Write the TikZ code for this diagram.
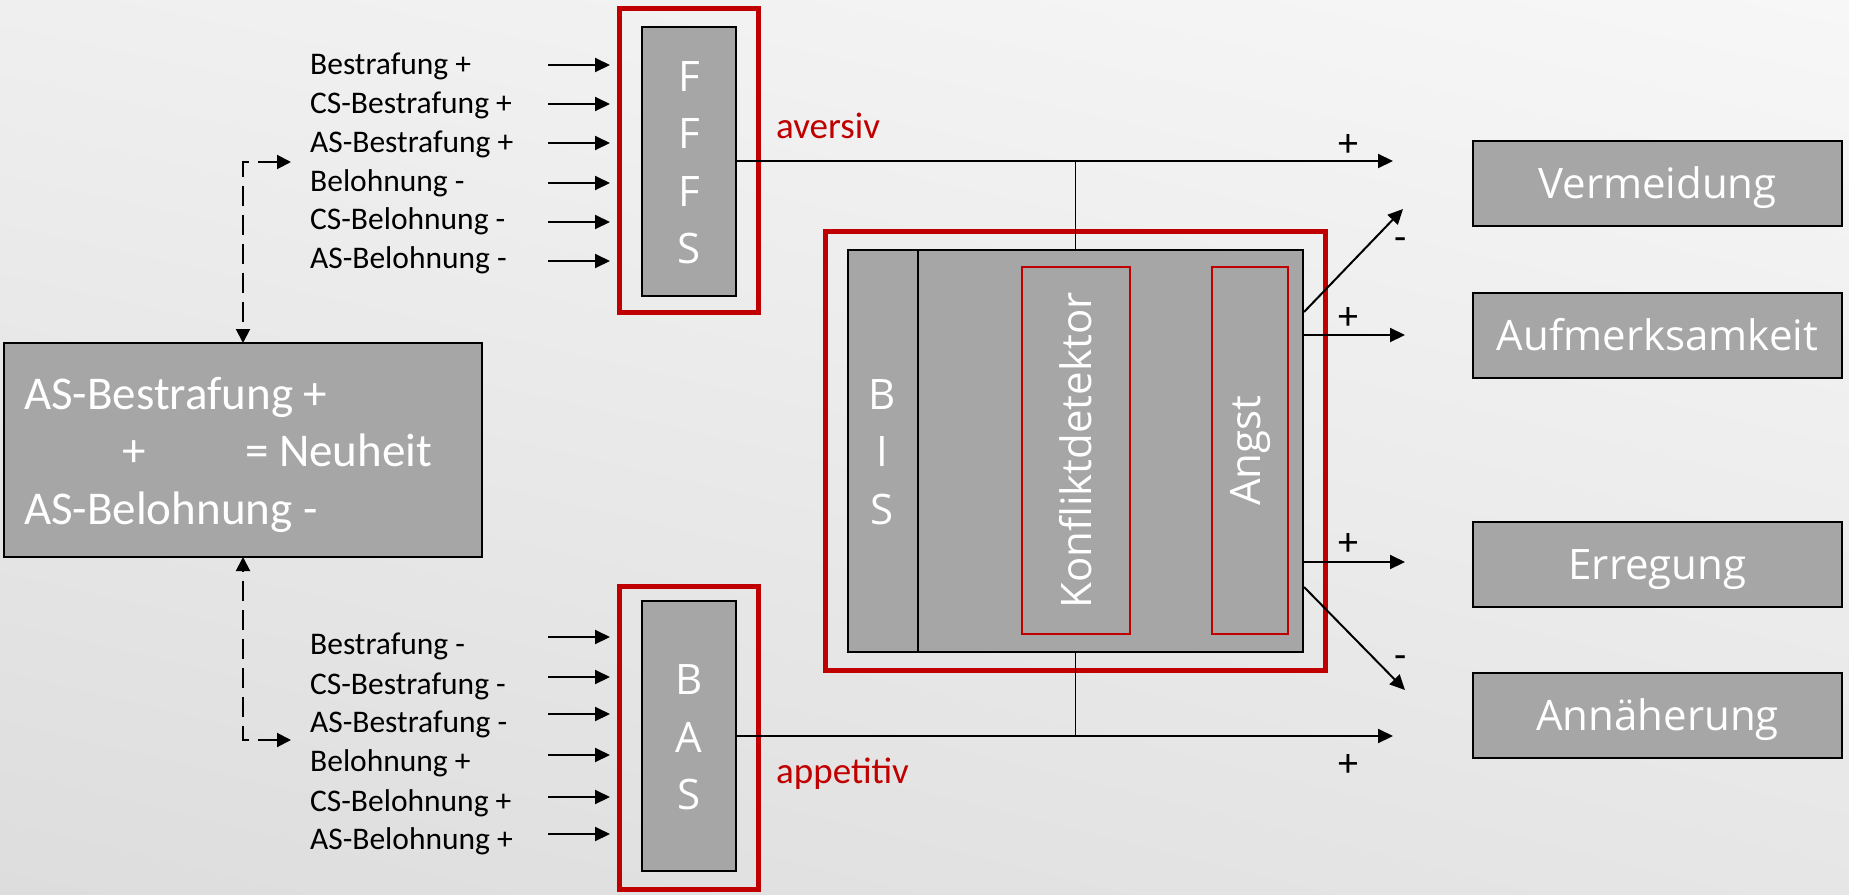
\documentclass[tikz,border=0pt]{standalone}
\usepackage{fontspec}
\setmainfont{Carlito}
\newfontfamily\osans{Open Sans}
\usetikzlibrary{arrows.meta,calc,shadings}
\definecolor{rd}{HTML}{C00000}
\definecolor{gr}{HTML}{A6A6A6}
\definecolor{bgUL}{HTML}{EFEFEF}
\definecolor{bgUR}{HTML}{F7F7F7}
\definecolor{bgLL}{HTML}{DDDDDD}
\definecolor{bgLR}{HTML}{E6E6E6}
\begin{document}
\begin{tikzpicture}[x=1pt,y=-1pt,
  graybox/.style={draw=black, line width=2pt, fill=gr, inner sep=0pt, outer sep=0pt},
  redframe/.style={draw=rd, line width=4.5pt, inner sep=0pt, outer sep=0pt},
  redinner/.style={draw=rd, line width=1.8pt, inner sep=0pt, outer sep=0pt},
  arr/.style={line width=2pt, -{Triangle[length=15pt,width=14pt]}},
  dsh/.style={line width=2pt, dash pattern=on 20pt off 9pt, {Triangle[length=14pt,width=14pt]}-{Triangle[length=14pt,width=14pt]}},
  lab/.style={font=\fontsize{31.5}{36}\selectfont, anchor=base west, inner sep=0pt},
  sign/.style={font=\fontsize{40}{44}\selectfont, anchor=base, inner sep=0pt},
  redlab/.style={font=\fontsize{37}{42}\selectfont, text=rd, anchor=base west, inner sep=0pt},
  big/.style={font=\osans\fontsize{42}{57.5}\selectfont, text=white, inner sep=0pt},
  neutext/.style={font=\fontsize{47}{54}\selectfont, text=white, inner sep=0pt},
  outbox/.style={graybox, line width=2.5pt, minimum width=369pt, minimum height=85pt, big, text height=30pt, text depth=0pt},
]
% background
\shade[upper left=bgUL, upper right=bgUR, lower left=bgLL, lower right=bgLR] (0,0) rectangle (1849,894);
\useasboundingbox (0,0) rectangle (1849,894);

% FFFS
\node[redframe, minimum width=139pt, minimum height=304pt] (ffr) at (689,160.5) {};
\node[graybox, minimum width=94pt, minimum height=269pt] (fffs) at (689,161) {};
\node[big, align=center] (ffl) at (689,162.5) {F\\F\\F\\S};

% BAS
\node[redframe, minimum width=139pt, minimum height=303pt] (basr) at (689,738) {};
\node[graybox, minimum width=94pt, minimum height=270pt] (bas) at (689,736) {};
\node[big, align=center] (basl) at (689,737.5) {B\\A\\S};

% BIS
\node[redframe, minimum width=500pt, minimum height=439pt] (bisr) at (1075.5,451) {};
\draw[line width=1.2pt] (bisr.center |- fffs.east) -- (bisr.center |- bas.east);
\node[graybox, minimum width=455pt, minimum height=402pt] (bis) at (1075.5,451) {};
\draw[line width=2pt] ($(bis.north west)+(70,0)$) -- ($(bis.south west)+(70,0)$);
\node[big, align=center] (bisl) at (882,452) {B\\I\\S};
\node[redinner, minimum width=108pt, minimum height=367pt] (konf) at (1076,450.5) {};
\node[big, rotate=90] (konft) at (konf.center) {Konfliktdetektor};
\node[redinner, minimum width=76pt, minimum height=367pt] (angst) at (1250,450.5) {};
\node[big, rotate=90] (angstt) at (angst.center) {Angst};

% Neuheit box
\node[graybox, line width=2.5pt, minimum width=478pt, minimum height=214pt] (neu) at (243,450) {};
\node[neutext, anchor=base west] (nl1) at (24,409) {AS-Bestrafung +};
\node[neutext, anchor=base] (nl2) at (134,466) {+};
\node[neutext, anchor=base west] (nl3) at (245,466) {= Neuheit};
\node[neutext, anchor=base west] (nl4) at (24,524) {AS-Belohnung -};

% top inputs
\node[lab] (lt1) at (310,74) {Bestrafung +};
\node[lab] (lt2) at (310,113) {CS-Bestrafung +};
\node[lab] (lt3) at (310,152) {AS-Bestrafung +};
\node[lab] (lt4) at (310,191) {Belohnung -};
\node[lab] (lt5) at (310,229) {CS-Belohnung -};
\node[lab] (lt6) at (310,268) {AS-Belohnung -};
\foreach \yy [count=\i] in {65,104,143,183,222,261} {
  \coordinate (ti\i) at (548,\yy);
  \draw[arr, shorten >=9.5pt] (ti\i) -- (ti\i -| ffr.west);
}
% bottom inputs
\node[lab] (lb1) at (310,654) {Bestrafung -};
\node[lab] (lb2) at (310,694) {CS-Bestrafung -};
\node[lab] (lb3) at (310,732) {AS-Bestrafung -};
\node[lab] (lb4) at (310,771) {Belohnung +};
\node[lab] (lb5) at (310,811) {CS-Belohnung +};
\node[lab] (lb6) at (310,849) {AS-Belohnung +};
\foreach \yy [count=\i] in {637,677,714,755,797,834} {
  \coordinate (bi\i) at (548,\yy);
  \draw[arr, shorten >=9.5pt] (bi\i) -- (bi\i -| basr.west);
}

% dashed links
\coordinate (dT) at (291,162);
\coordinate (dB) at (291,740);
\draw[dsh] (dT) -| (neu.north);
\draw[dsh] (dB) -| (neu.south);

% aversiv / appetitiv
\coordinate (avE) at (1393,161);
\coordinate (apE) at (1393,736);
\draw[arr] (fffs.east) -- (avE);
\draw[arr] (bas.east) -- (apE);
\node[redlab] (av) at (776,138) {aversiv};
\node[redlab] (ap) at (776,783) {appetitiv};

% BIS outputs
\coordinate (upS) at (1304,312); \coordinate (upE) at (1403,209);
\coordinate (auS) at (1304,335); \coordinate (auE) at (1405,335);
\coordinate (erS) at (1304,562); \coordinate (erE) at (1405,562);
\coordinate (dnS) at (1304,587); \coordinate (dnE) at (1405,690);
\draw[arr] (upS) -- (upE);
\draw[arr] (auS) -- (auE);
\draw[arr] (erS) -- (erE);
\draw[arr] (dnS) -- (dnE);

% signs
\node[sign] (s1) at (1348,156) {+};
\node[sign] (s2) at (1401,250) {-};
\node[sign] (s3) at (1348,329) {+};
\node[sign] (s4) at (1348,555) {+};
\node[sign] (s5) at (1401,668) {-};
\node[sign] (s6) at (1348,776) {+};

% right boxes
\node[outbox] (verm) at (1657.5,183.5) {Vermeidung};
\node[outbox] (aufm) at (1657.5,335.5) {Aufmerksamkeit};
\node[outbox] (erre) at (1657.5,564.5) {Erregung};
\node[outbox] (anna) at (1657.5,715.5) {Annäherung};
\end{tikzpicture}
\end{document}
